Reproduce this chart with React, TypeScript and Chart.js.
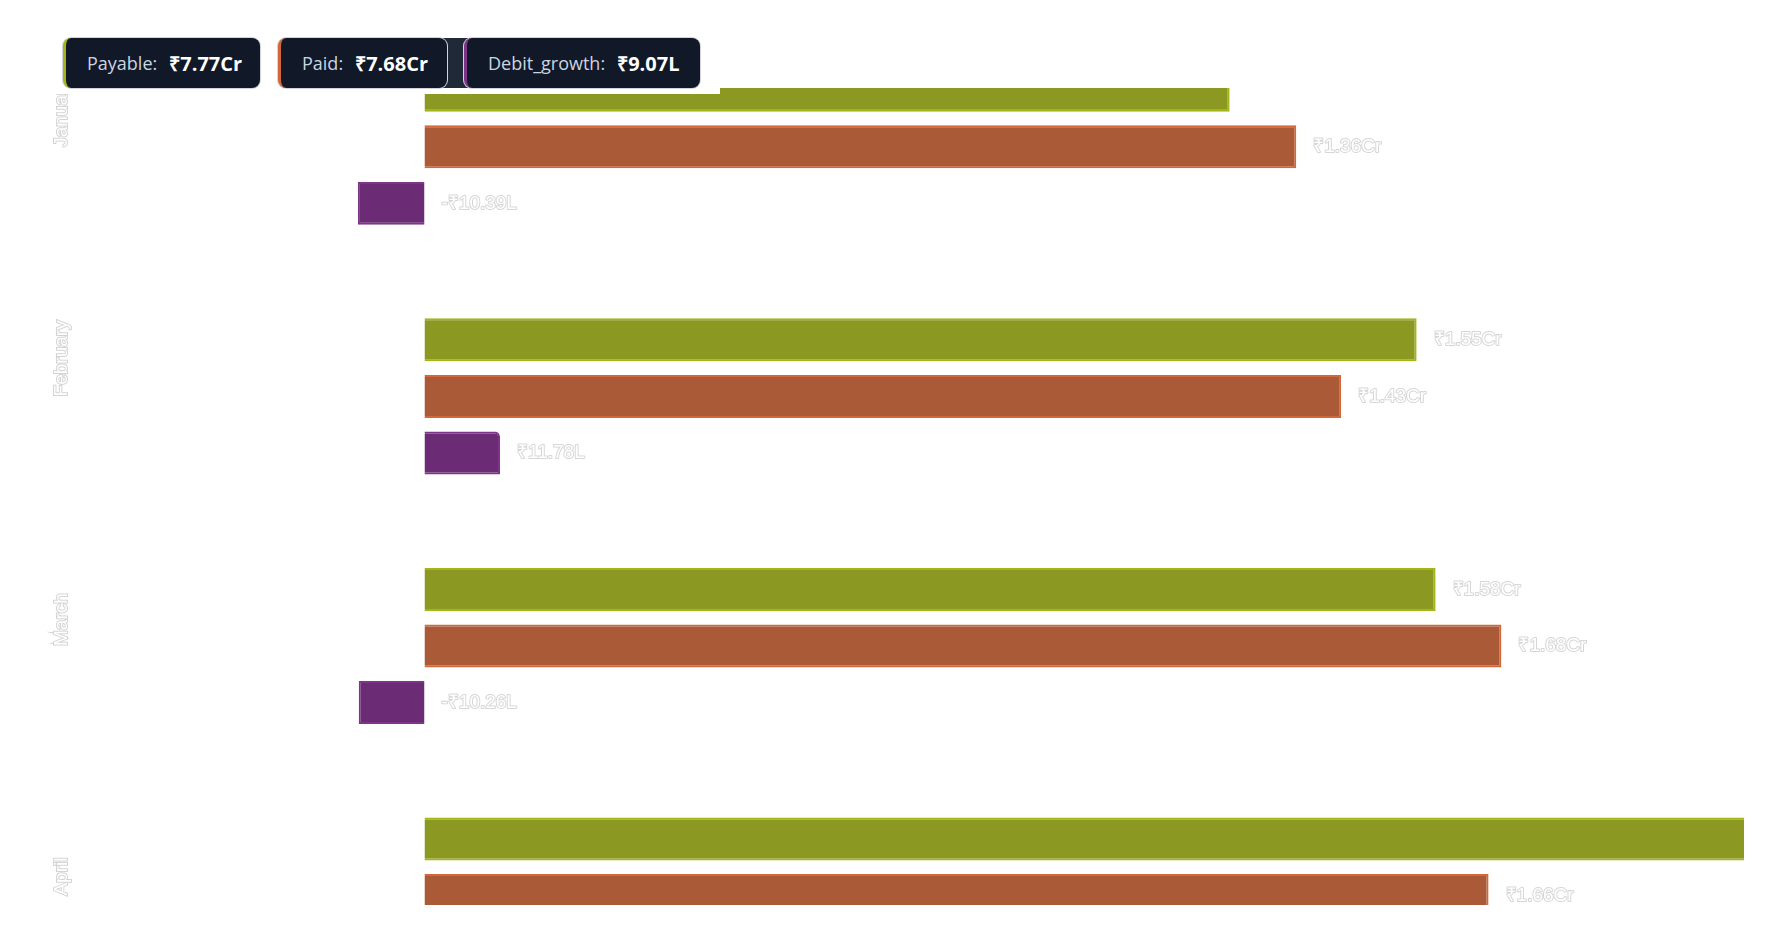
import React, { useEffect, useRef } from "react";
import { Chart, registerables } from "chart.js";

Chart.register(...registerables);

const months = ["January", "February", "March", "April", "May"];
const payable = [12561000, 15478000, 15774000, 21400000, 12494000];
const paid = [13600000, 14300000, 16800000, 16600000, 15500000];
const debitGrowth = [-1039000, 1178000, -1026000, 4800000, -3006000];

const seriesNames = ["Payable", "Paid", "Debit_growth"];
const fills = ["#8b9922", "#ab5a37", "#6b2c75"];
const borders = ["#a3b617", "#d2673a", "#7e3489"];

// scroll window of the chart inside its clipping container
const SCROLL_TOP = 66;
const VIEW_HEIGHT = 817;

function fmtINR(v: number): string {
  const sign = v < 0 ? "-" : "";
  const a = Math.abs(v);
  if (a >= 1e7) return sign + "₹" + (a / 1e7).toFixed(2) + "Cr";
  if (a >= 1e5) return sign + "₹" + (a / 1e5).toFixed(2) + "L";
  return sign + "₹" + a.toLocaleString("en-IN");
}

const sum = (arr: number[]) => arr.reduce((s, v) => s + v, 0);

const FONT_FAMILY = "'Helvetica Neue', Helvetica, Arial, sans-serif";

const valueLabels = {
  id: "valueLabels",
  afterDatasetsDraw(chart: any) {
    const ctx = chart.ctx;
    ctx.save();
    ctx.font = `19px ${FONT_FAMILY}`;
    ctx.textAlign = "left";
    ctx.textBaseline = "middle";
    ctx.fillStyle = "#ffffff";
    ctx.strokeStyle = "#d6d6d6";
    ctx.lineWidth = 2;
    ctx.lineJoin = "round";
    chart.data.datasets.forEach((ds: any, i: number) => {
      const meta = chart.getDatasetMeta(i);
      if (meta.hidden) return;
      meta.data.forEach((bar: any, j: number) => {
        const v = ds.data[j];
        const p = bar.getProps(["x", "base", "y"], true);
        // a label is shown only when its top edge lies inside the scrolled viewport
        const top = p.y - 10;
        if (top < SCROLL_TOP || top > SCROLL_TOP + VIEW_HEIGHT) return;
        const tx = Math.max(p.x, p.base) + 17;
        const txt = fmtINR(v);
        ctx.strokeText(txt, tx, p.y);
        ctx.fillText(txt, tx, p.y);
      });
    });
    ctx.restore();
  },
};

function LegendBox(props: { left: number; width: number; color: string; name: string; value: string }) {
  return (
    <div
      style={{
        position: "absolute",
        left: props.left,
        top: 38,
        width: props.width,
        height: 50,
        boxSizing: "border-box",
        background: "#111827",
        borderRadius: 8,
        borderLeft: `3px solid ${props.color}`,
        boxShadow: "0 0 0 1px #d1d5db",
        display: "flex",
        alignItems: "center",
        paddingLeft: 21,
        fontFamily: "'Open Sans', sans-serif",
        whiteSpace: "nowrap",
        zIndex: 4,
      }}
    >
      <span style={{ color: "#cbd5e1", fontSize: 18 }}>{props.name}:</span>
      <span style={{ color: "#ffffff", fontWeight: 700, fontSize: 20, marginLeft: 12 }}>{props.value}</span>
    </div>
  );
}

export default function App() {
  const canvasRef = useRef<HTMLCanvasElement | null>(null);

  useEffect(() => {
    const canvas = canvasRef.current;
    if (!canvas) return;
    const seriesData = [payable, paid, debitGrowth];
    const chart = new Chart(canvas, {
      type: "bar",
      data: {
        labels: months,
        datasets: seriesData.map((d, i) => ({
          label: seriesNames[i],
          data: d,
          backgroundColor: fills[i],
          borderColor: borders[i],
          borderWidth: 2,
          borderRadius: i === 2 ? { topRight: 5 } : 0,
          categoryPercentage: 0.68,
          barPercentage: 0.76,
        })),
      },
      options: {
        indexAxis: "y",
        responsive: false,
        animation: false,
        devicePixelRatio: 1,
        layout: { padding: { left: 62, right: 33, top: 0, bottom: 0 } },
        plugins: {
          legend: { display: false },
          tooltip: { enabled: false },
        },
        scales: {
          x: {
            display: false,
            min: -5000000,
            max: 25000000,
          },
          y: {
            grid: { display: false },
            border: { display: false },
            afterFit: (scale: any) => {
              scale.width = 42;
            },
            ticks: {
              minRotation: 90,
              maxRotation: 90,
              mirror: true,
              crossAlign: "near",
              padding: -42,
              color: "#ffffff",
              textStrokeColor: "#d4d4d4",
              textStrokeWidth: 2,
              font: { size: 19, family: FONT_FAMILY },
            },
          },
        },
      } as any,
      plugins: [valueLabels],
    });
    return () => chart.destroy();
  }, []);

  return (
    <div style={{ position: "absolute", left: 0, top: 0, width: 1787, height: 950, background: "#ffffff", overflow: "hidden" }}>
      <div style={{ position: "absolute", left: 0, top: 0, width: 720, height: 94, background: "#ffffff", zIndex: 2 }} />
      <div style={{ position: "absolute", left: 440, top: 38, width: 30, height: 50, background: "#1f2937", zIndex: 3 }} />
      <LegendBox left={63} width={197} color={borders[0]} name={seriesNames[0]} value={fmtINR(sum(payable))} />
      <LegendBox left={278} width={169} color={borders[1]} name={seriesNames[1]} value={fmtINR(sum(paid))} />
      <LegendBox left={464} width={236} color={borders[2]} name={seriesNames[2]} value={fmtINR(sum(debitGrowth))} />
      <div style={{ position: "absolute", left: 0, top: 88, width: 1744, height: VIEW_HEIGHT, overflow: "hidden", zIndex: 1 }}>
        <div style={{ position: "absolute", left: 0, top: -SCROLL_TOP, width: 2060, height: 1248 }}>
          <canvas ref={canvasRef} width={2060} height={1248} style={{ display: "block", width: 2060, height: 1248 }} />
        </div>
      </div>
    </div>
  );
}
